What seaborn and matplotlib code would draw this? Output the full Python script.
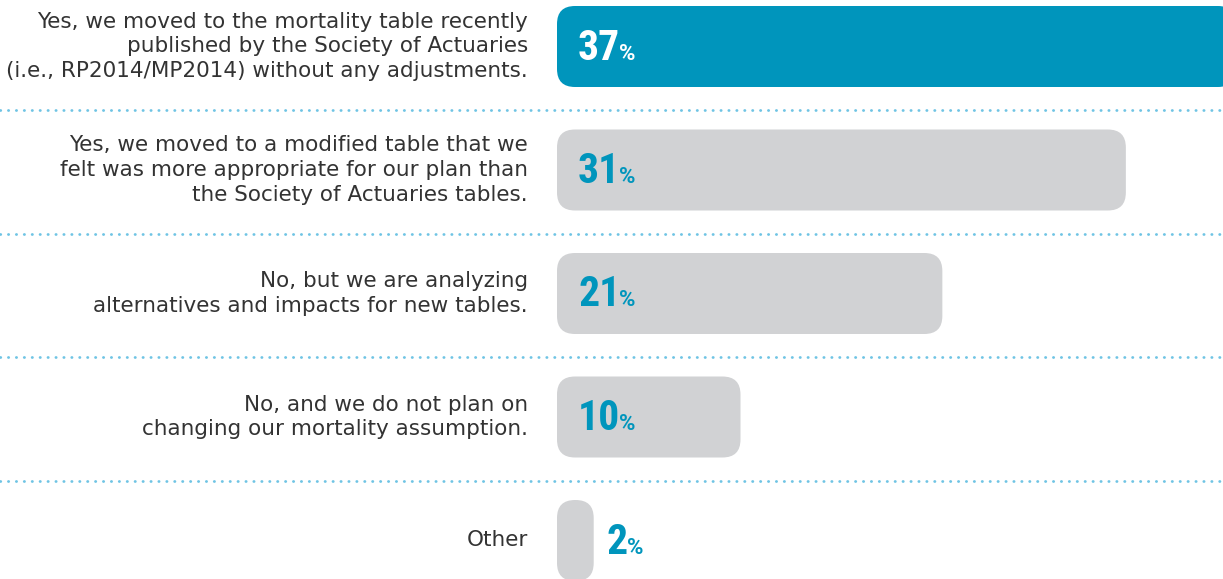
import matplotlib
matplotlib.use("Agg")
import matplotlib.pyplot as plt
import seaborn as sns
import pandas as pd
from matplotlib.patches import FancyBboxPatch

# data
answers = [
    "Yes, we moved to the mortality table recently\npublished by the Society of Actuaries\n(i.e., RP2014/MP2014) without any adjustments.",
    "Yes, we moved to a modified table that we\nfelt was more appropriate for our plan than\nthe Society of Actuaries tables.",
    "No, but we are analyzing\nalternatives and impacts for new tables.",
    "No, and we do not plan on\nchanging our mortality assumption.",
    "Other",
]
shares = [37, 31, 21, 10, 2]
bar_colors = ["#0095bc", "#d1d2d4", "#d1d2d4", "#d1d2d4", "#d1d2d4"]

df = pd.DataFrame({"answer": answers, "share": shares})

sns.set_style("white")
plt.rcParams['font.family'] = ['DejaVu Sans']

W, H = 1223, 579
fig = plt.figure(figsize=(W / 100, H / 100), dpi=100)
ax = fig.add_axes([0, 0, 1, 1])

px_x = 18.35    # pixels per percent
px_y = 123.5    # pixels per category
x0 = 557        # pixel where bars start
y0 = 46.5       # pixel center of first bar

sns.barplot(data=df, x="share", y="answer", hue="answer", palette=bar_colors,
            orient="h", width=81 / px_y, saturation=1, legend=False, ax=ax)

ax.set_xlim(-x0 / px_x, (W - x0) / px_x)
ax.set_ylim((H - y0) / px_y, -y0 / px_y)
ax.axis("off")

# rounded bars
aspect = px_x / px_y
for p in list(ax.patches):
    x, y, w, h = p.get_x(), p.get_y(), p.get_width(), p.get_height()
    fc = p.get_facecolor()
    p.remove()
    r = min(18 / px_x, w / 2)
    ax.add_patch(FancyBboxPatch((x, y), w, h,
                                boxstyle=f"round,pad=0,rounding_size={r}",
                                mutation_aspect=aspect, fc=fc, ec="none",
                                clip_on=True))

# dotted separators
for i in range(len(answers) - 1):
    ax.plot([-x0 / px_x, (W - x0) / px_x], [i + 0.515, i + 0.515],
            color="#6fc4e4", lw=2, ls=(0, (0.1, 2.75)),
            dash_capstyle="round", solid_capstyle="round")

# category labels
for i, a in enumerate(answers):
    ax.text(-29 / px_x, i, a, ha="right", va="center", fontsize=15.5,
            color="#333333", linespacing=1.3)

# value labels
fig.canvas.draw()
rend = fig.canvas.get_renderer()
for i, v in enumerate(shares):
    if v * px_x > 60:
        tx = 21 / px_x
        col = "white" if i == 0 else "#0095bc"
    else:
        tx = v + 13 / px_x
        col = "#0095bc"
    t = ax.text(tx, i + 13 / px_y, str(v), ha="left", va="baseline",
                fontsize=30, fontweight="bold", color=col,
                family=['Roboto Condensed', 'DejaVu Sans'])
    bb = t.get_window_extent(rend)
    xd = ax.transData.inverted().transform((bb.x1 - 1, 0))[0]
    ax.text(xd, i + 13 / px_y, "%", ha="left", va="baseline",
            fontsize=16, fontweight="bold", color=col,
            family=['Roboto', 'DejaVu Sans'])

fig.savefig("out.png", dpi=100)
